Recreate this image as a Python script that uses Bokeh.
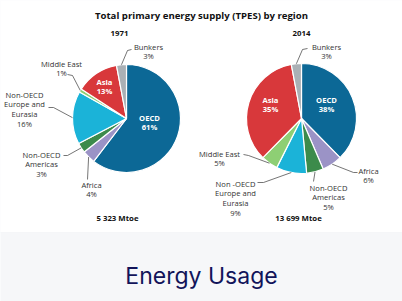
import math
from bokeh.plotting import figure
from bokeh.models import Range1d, BoxAnnotation
from bokeh.core.properties import value
from bokeh.embed import file_html
from bokeh.resources import INLINE

# ---------------- data ----------------
regions = ["OECD", "Africa", "Non-OECD Americas", "Non-OECD Europe and Eurasia",
           "Middle East", "Asia", "Bunkers"]
share_1971 = [61, 4, 3, 16, 1, 13, 3]
share_2014 = [38, 6, 5, 9, 5, 35, 3]
total_1971 = "5 323 Mtoe"
total_2014 = "13 699 Mtoe"
colors = ["#0c6896", "#9b93c6", "#3c8b4b", "#1bb3d8", "#8ecf74", "#d8383b", "#aab0b5"]

W, H = 402, 301
FONT = "Open Sans"

def Y(py):
    return H - py

p = figure(width=W, height=H, output_backend="svg", toolbar_location=None,
           x_range=Range1d(0, W), y_range=Range1d(0, H), min_border=0)
p.axis.visible = False
p.grid.visible = False
p.outline_line_color = None
p.background_fill_color = "#f6f7f9"
p.border_fill_color = "#f6f7f9"

card = BoxAnnotation(left=-12, right=W + 12, top=H + 12, bottom=Y(232),
                     fill_color="white", fill_alpha=1, line_color="#e9ebef",
                     line_width=1, border_radius=12, level="underlay")
p.add_layout(card)

def txt(x, y, s, size="7.6px", color="#333333", bold=False):
    p.text(x=[x], y=[Y(y)], text=[s], text_font=value(FONT), text_font_size=size,
           text_color=color, text_align="center", text_baseline="middle",
           text_font_style="bold" if bold else "normal")

LS = 9.8

def pie(cx, cy, r, shares, labels):
    tot = float(sum(shares))
    cum = 0.0
    for i, v in enumerate(shares):
        a0 = math.pi / 2 - 2 * math.pi * cum / tot
        mid = cum + v / 2.0
        cum += v
        a1 = math.pi / 2 - 2 * math.pi * cum / tot
        p.wedge(x=[cx], y=[Y(cy)], radius=r, start_angle=[a1], end_angle=[a0],
                fill_color=colors[i], line_color="white", line_width=1.2)
        cfg = labels[i]
        pct = "%d%%" % v
        lines = cfg["lines"] + [pct]
        if cfg.get("inside"):
            for k, ln in enumerate(lines):
                txt(cfg["x"], cfg["y"] + k * 9.5, ln, size="7.6px", color="white", bold=True)
            continue
        ang = 2 * math.pi * mid / tot
        ex = cx + r * math.sin(ang)
        ey = cy - r * math.cos(ang)
        pts = [(ex, ey)] + cfg["leader"]
        p.line(x=[q[0] for q in pts], y=[Y(q[1]) for q in pts],
               line_color="#3a3a3a", line_width=0.7)
        for k, ln in enumerate(lines):
            txt(cfg["x"], cfg["y"] + k * LS, ln)

labels_1971 = [
    {"lines": ["OECD"], "inside": True, "x": 149, "y": 117},
    {"lines": ["Africa"], "x": 91, "y": 184, "leader": [(87, 179)]},
    {"lines": ["Non-OECD", "Americas"], "x": 41, "y": 154, "leader": [(67, 155), (63, 155)]},
    {"lines": ["Non-OECD", "Europe and", "Eurasia"], "x": 24, "y": 94, "leader": [(53, 107), (48, 107)]},
    {"lines": ["Middle East"], "x": 61, "y": 63, "leader": [(72, 75), (67, 74)]},
    {"lines": ["Asia"], "inside": True, "x": 104, "y": 81},
    {"lines": ["Bunkers"], "x": 148, "y": 46, "leader": [(127, 50), (131, 49)]},
]
labels_2014 = [
    {"lines": ["OECD"], "inside": True, "x": 326, "y": 99},
    {"lines": ["Africa"], "x": 368, "y": 170, "leader": [(353, 172), (357, 172)]},
    {"lines": ["Non-OECD", "Americas"], "x": 328, "y": 187, "leader": [(313, 181)]},
    {"lines": ["Non -OECD", "Europe and", "Eurasia"], "x": 235, "y": 183, "leader": [(263, 182), (257, 182)]},
    {"lines": ["Middle East"], "x": 219, "y": 153, "leader": [(248, 155), (243, 154)]},
    {"lines": ["Asia"], "inside": True, "x": 270, "y": 99},
    {"lines": ["Bunkers"], "x": 326, "y": 46, "leader": [(302, 49), (307, 48)]},
]

pie(126, 118, 54, share_1971, labels_1971)
pie(301, 118, 55, share_2014, labels_2014)

txt(201, 15, "Total primary energy supply (TPES) by region", size="9.6px", color="#111111", bold=True)
txt(119, 33, "1971", size="7.8px", color="#111111", bold=True)
txt(301, 33, "2014", size="7.8px", color="#111111", bold=True)
txt(117, 217, total_1971, size="7.8px", color="#111111", bold=True)
txt(298, 217, total_2014, size="7.8px", color="#111111", bold=True)

p.text(x=[201], y=[Y(275)], text=["Energy Usage"], text_font=value("Inter"),
       text_font_size="23px", text_color="#12145a", text_align="center",
       text_baseline="middle")

open("out.html", "w").write(file_html(p, INLINE))
